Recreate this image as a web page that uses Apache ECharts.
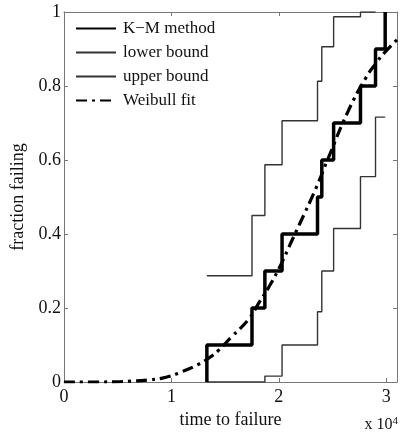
<!DOCTYPE html>
<html>
<head>
<meta charset="utf-8">
<script src="https://cdn.jsdelivr.net/npm/echarts@6/dist/echarts.min.js"></script>
<style>
  html, body { margin: 0; padding: 0; background: #fff; }
  #chart { width: 400px; height: 436px; }
</style>
</head>
<body>
<div id="chart"></div>
<script>
// failure times (hours) and Kaplan-Meier estimate after each failure
const failTimes = [13300, 17500, 18700, 20300, 23600, 24000, 25100, 27600, 29000, 29900];
const kmFraction = [0.1, 0.2, 0.3, 0.4, 0.5, 0.6, 0.7, 0.8, 0.9, 1.0];
const lowerBound = [0, 0, 0.016, 0.10, 0.19, 0.30, 0.415, 0.555, 0.716, 0.716];
const upperBound = [0.287, 0.45, 0.587, 0.706, 0.813, 0.906, 0.987, 1.0, null, null];

// Weibull fit
const weibullT = [0, 3000, 6000, 8000, 9500, 11000, 12400, 13500, 14400, 15600, 17200, 18100, 19100, 20200, 21100, 21900, 23400, 24600, 26500, 28100, 29000, 29900, 31000];
const weibullF = [0, 0, 0.002, 0.006, 0.013, 0.028, 0.046, 0.065, 0.086, 0.122, 0.17, 0.212, 0.258, 0.318, 0.375, 0.425, 0.52, 0.605, 0.735, 0.822, 0.86, 0.892, 0.925];

const xTicks = ['0', '1', '2', '3'];

const serif = 'Liberation Serif';
const ink = '#111';
const frame = '#777';

const kmData = [[failTimes[0], 0]].concat(failTimes.map((t, i) => [t, kmFraction[i]]));
const lowerData = [[failTimes[0], 0]].concat(failTimes.map((t, i) => [t, lowerBound[i]]));
const upperData = failTimes.map((t, i) => [t, upperBound[i]]);
const weibullData = weibullT.map((t, i) => [t, weibullF[i]]);

const chart = echarts.init(document.getElementById('chart'));

const mirrorTick = { show: true, inside: true, length: 4, lineStyle: { color: frame } };

const option = {
  backgroundColor: '#fff',
  animation: false,
  grid: { left: 64, right: 2, top: 12, bottom: 54, containLabel: false },
  legend: {
    left: 70,
    top: 15,
    orient: 'vertical',
    itemWidth: 40,
    itemHeight: 10,
    itemGap: 7,
    itemStyle: { opacity: 0 },
    textStyle: { fontFamily: serif, fontSize: 17, color: ink, padding: [0, 0, 0, 2] },
    data: ['K\u2212M method', 'lower bound', 'upper bound', 'Weibull fit']
  },
  xAxis: [
    {
      type: 'value',
      min: 0,
      max: 31000,
      interval: 10000,
      name: 'time to failure',
      nameLocation: 'middle',
      nameGap: 21,
      nameTextStyle: { fontFamily: serif, fontSize: 18, color: ink },
      axisLine: { show: true, onZero: false, lineStyle: { color: frame, width: 1 } },
      axisTick: mirrorTick,
      axisLabel: {
        fontFamily: serif, fontSize: 18, color: ink, margin: 6,
        formatter: v => (v % 10000 === 0 ? xTicks[v / 10000] : '')
      },
      splitLine: { show: false }
    },
    {
      type: 'value',
      position: 'top',
      min: 0,
      max: 31000,
      interval: 10000,
      axisLine: { show: true, onZero: false, lineStyle: { color: frame, width: 1 } },
      axisTick: mirrorTick,
      axisLabel: { show: false },
      splitLine: { show: false }
    }
  ],
  yAxis: [
    {
      type: 'value',
      min: 0,
      max: 1,
      interval: 0.2,
      name: 'fraction failing',
      nameLocation: 'middle',
      nameGap: 33,
      nameTextStyle: { fontFamily: serif, fontSize: 18, color: ink },
      axisLine: { show: true, onZero: false, lineStyle: { color: frame, width: 1 } },
      axisTick: mirrorTick,
      axisLabel: {
        fontFamily: serif, fontSize: 18, color: ink, margin: 3,
        formatter: v => (v === 0 ? '0' : v === 1 ? '1' : String(Math.round(v * 10) / 10))
      },
      splitLine: { show: false }
    },
    {
      type: 'value',
      position: 'right',
      min: 0,
      max: 1,
      interval: 0.2,
      axisLine: { show: true, onZero: false, lineStyle: { color: frame, width: 1 } },
      axisTick: mirrorTick,
      axisLabel: { show: false },
      splitLine: { show: false }
    }
  ],
  series: [
    {
      name: 'K\u2212M method',
      type: 'line',
      step: 'end',
      symbol: 'none',
      data: kmData,
      lineStyle: { color: '#000', width: 3.5 },
      itemStyle: { color: '#000' },
      z: 4
    },
    {
      name: 'lower bound',
      type: 'line',
      step: 'end',
      symbol: 'none',
      data: lowerData,
      lineStyle: { color: '#333', width: 1.4 },
      itemStyle: { color: '#333' },
      z: 2
    },
    {
      name: 'upper bound',
      type: 'line',
      step: 'end',
      symbol: 'none',
      data: upperData,
      lineStyle: { color: '#333', width: 1.4 },
      itemStyle: { color: '#333' },
      z: 2
    },
    {
      name: 'Weibull fit',
      type: 'line',
      smooth: true,
      symbol: 'none',
      data: weibullData,
      lineStyle: { color: '#000', width: 3.2, type: [11, 5, 3, 5] },
      itemStyle: { color: '#000' },
      z: 3
    }
  ],
  graphic: [
    {
      type: 'text',
      right: 2,
      top: 416,
      style: {
        text: 'x 10{sup|4}',
        fontFamily: serif,
        fontSize: 16,
        fill: ink,
        rich: { sup: { fontFamily: serif, fontSize: 11, verticalAlign: 'top', padding: [0, 0, 7, 0] } }
      }
    }
  ]
};

chart.setOption(option);
</script>
</body>
</html>
